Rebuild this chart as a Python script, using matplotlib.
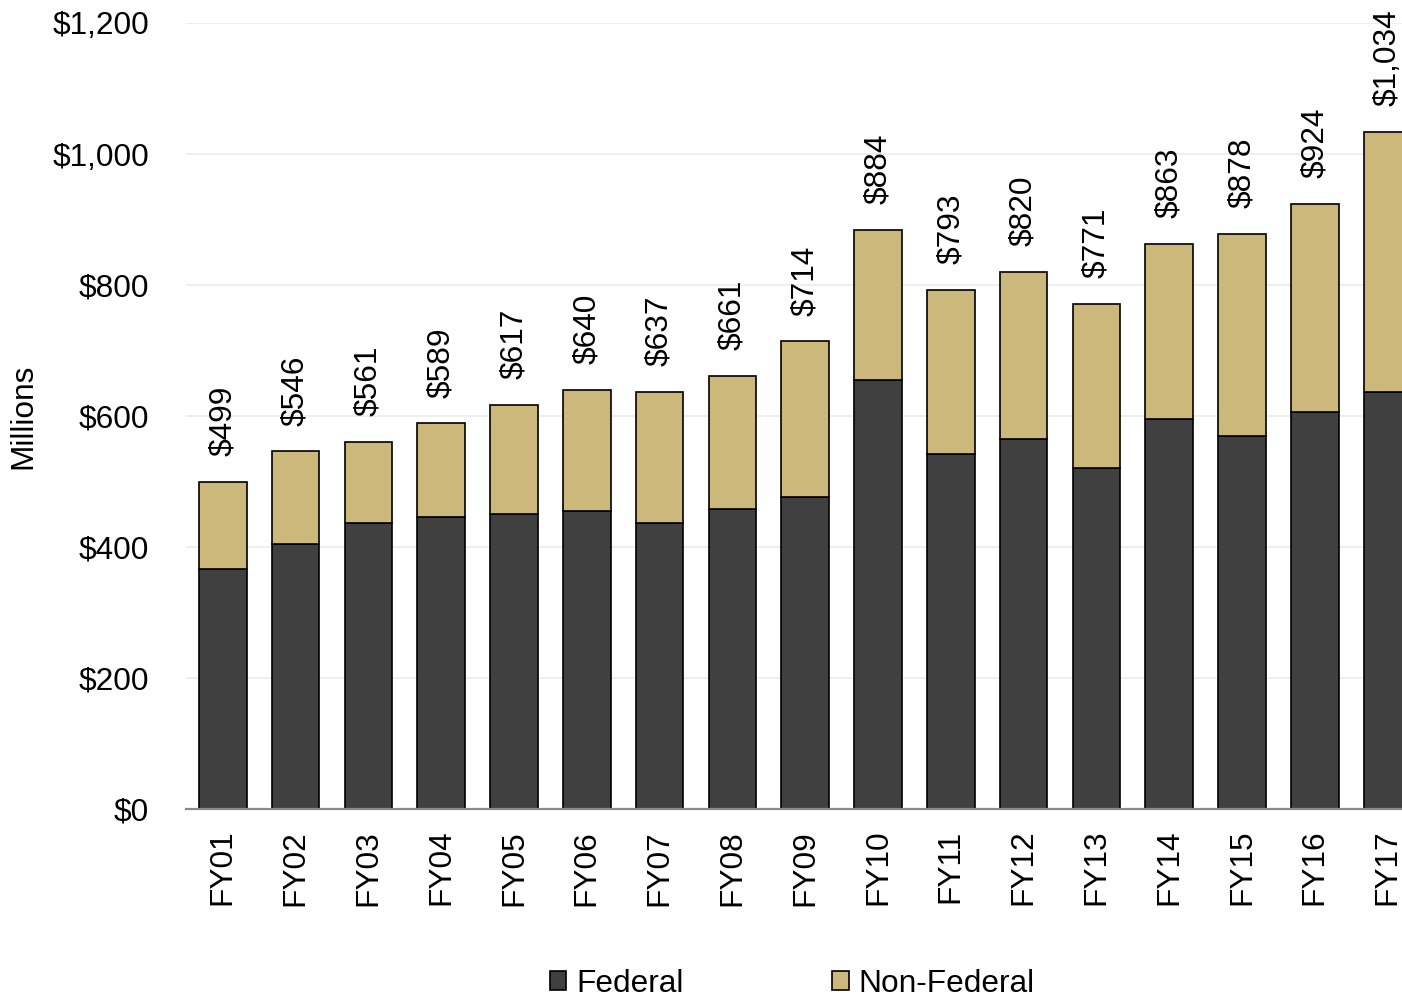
import matplotlib
matplotlib.use("Agg")
import matplotlib.pyplot as plt
import numpy as np

plt.rcParams['font.family'] = ['Liberation Sans', 'DejaVu Sans']

categories = ["FY01", "FY02", "FY03", "FY04", "FY05", "FY06", "FY07", "FY08", "FY09",
              "FY10", "FY11", "FY12", "FY13", "FY14", "FY15", "FY16", "FY17"]
federal = [366, 405, 437, 446, 451, 455, 436, 458, 477, 655, 542, 565, 520, 596, 569, 606, 637]
totals = [499, 546, 561, 589, 617, 640, 637, 661, 714, 884, 793, 820, 771, 863, 878, 924, 1034]
non_federal = [t - f for t, f in zip(totals, federal)]
yticks = [0, 200, 400, 600, 800, 1000, 1200]

FS = 22.8
DARK = "#404040"
TAN = "#CDB87C"

fig = plt.figure(figsize=(14.02, 9.99), dpi=100)
ax = fig.add_axes([186.4 / 1402, 190 / 999, (1424 - 186.4) / 1402, (809.5 - 23.5) / 999])

x = np.arange(len(categories))
w = 0.655
b1 = ax.bar(x, federal, width=w, color=DARK, edgecolor="black", linewidth=1.2, label="Federal", zorder=3)
b2 = ax.bar(x, non_federal, width=w, bottom=federal, color=TAN, edgecolor="black", linewidth=1.2,
            label="Non-Federal", zorder=3)

for i, t in enumerate(totals):
    ax.annotate(f"${t:,}", xy=(i, t), xytext=(0, 18.5), textcoords="offset points",
                rotation=90, ha="center", va="bottom", fontsize=FS, annotation_clip=False)

ax.set_xlim(-0.5, len(categories) - 0.5)
ax.set_ylim(0, 1200)
ax.set_yticks(yticks)
ax.set_yticklabels([f"${v:,}" for v in yticks], fontsize=FS)
ax.set_xticks(x)
ax.set_xticklabels(categories, rotation=90, fontsize=FS)
ax.tick_params(axis="both", length=0)
ax.tick_params(axis="y", pad=27)
ax.tick_params(axis="x", pad=15)

ax.grid(axis="y", color="#ebebeb", linewidth=1.1, zorder=0)
ax.set_axisbelow(True)
for s in ["top", "right", "left"]:
    ax.spines[s].set_visible(False)
ax.spines["bottom"].set_color("#898989")
ax.spines["bottom"].set_linewidth(1.6)
ax.spines["bottom"].set_zorder(4)

ax.set_ylabel("Millions", fontsize=FS)
ax.yaxis.set_label_coords((38 - 186.4) / (1424 - 186.4), 0.5)

fig.legend(handles=[b1, b2], labels=["Federal", "Non-Federal"], loc="center left",
           bbox_to_anchor=(550 / 1402, 1 - 984 / 999), ncol=2, frameon=False, fontsize=FS,
           handlelength=0.52, handleheight=0.55, handletextpad=0.3, columnspacing=4.7,
           borderpad=0, borderaxespad=0)

fig.savefig("out.png", dpi=100)
